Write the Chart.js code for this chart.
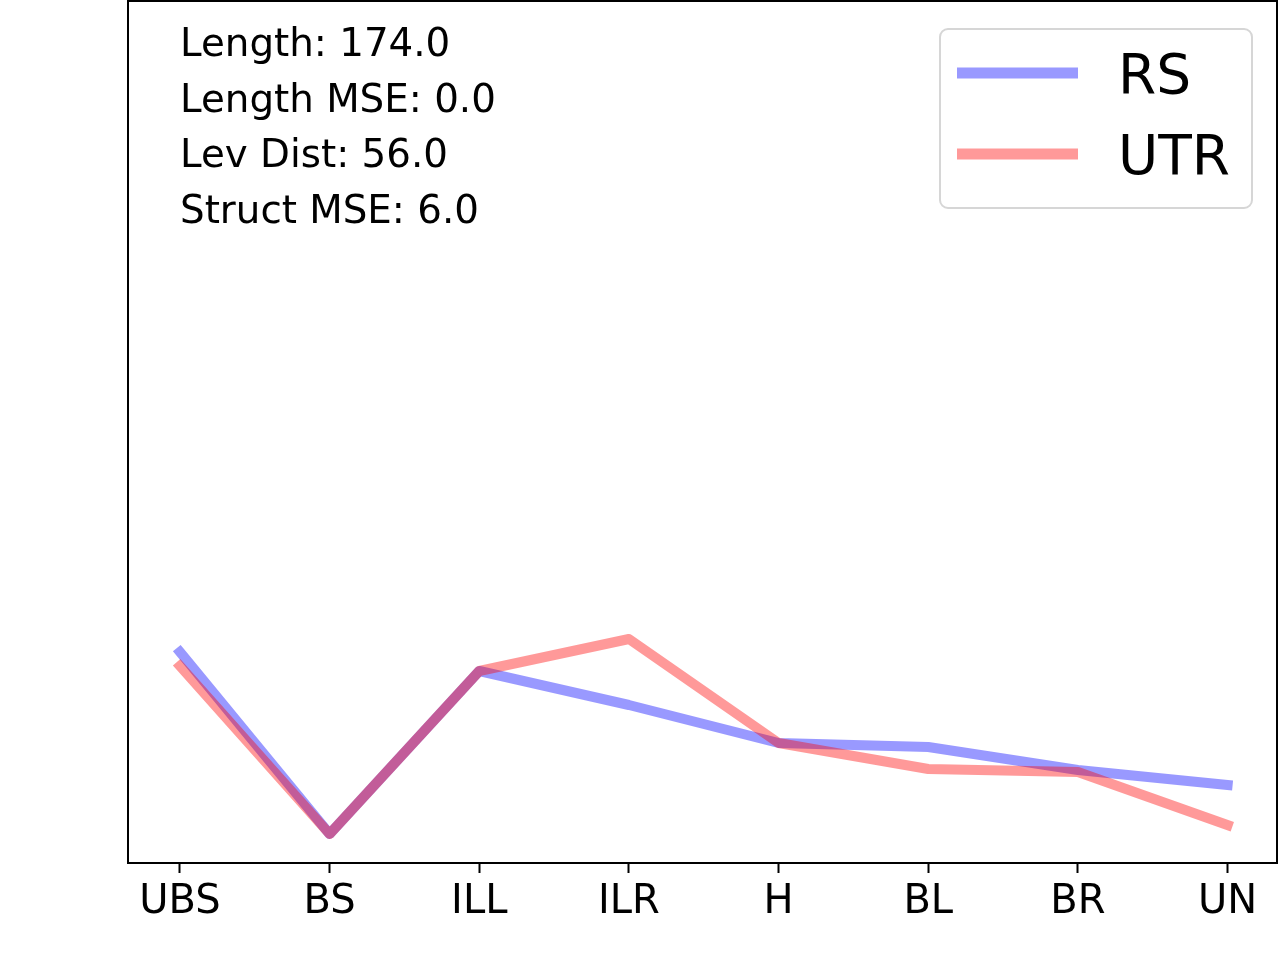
<!DOCTYPE html>
<html>
<head>
<meta charset="utf-8">
<script src="https://cdn.jsdelivr.net/npm/chart.js@4.4.1/dist/chart.umd.min.js"></script>
<style>
  html, body { margin: 0; padding: 0; background: #fff; }
  #wrap { width: 1280px; height: 960px; }
</style>
</head>
<body>
<div id="wrap"><canvas id="chart" width="1280" height="960"></canvas></div>
<script>
// values, arbitrary units (no y axis shown)
const categories = ['UBS', 'BS', 'ILL', 'ILR', 'H', 'BL', 'BR', 'UN'];
const rsValues = [211, 29, 192, 158, 120, 116, 93, 78];
const utrValues = [197, 29, 192, 224, 120, 94, 91, 38];
const statsLines = ['Length: 174.0', 'Length MSE: 0.0', 'Lev Dist: 56.0', 'Struct MSE: 6.0'];

const FONT = 'DejaVu Sans';

function toPoints(values) {
    return values.map((v, i) => ({ x: i, y: v }));
}

// black box round the plot area, like a matplotlib axes frame
const framePlugin = {
    id: 'frame',
    afterDatasetsDraw(chart) {
        const { ctx, chartArea: a } = chart;
        ctx.save();
        ctx.strokeStyle = '#000';
        ctx.lineWidth = 2;
        ctx.strokeRect(a.left, a.top, a.right - a.left, a.bottom - a.top);
        ctx.restore();
    }
};

// the stats text in the upper left corner
const statsPlugin = {
    id: 'stats',
    afterDraw(chart) {
        const ctx = chart.ctx;
        ctx.save();
        ctx.fillStyle = '#000';
        ctx.font = '38.8px "' + FONT + '"';
        ctx.textAlign = 'left';
        ctx.textBaseline = 'alphabetic';
        statsLines.forEach((line, i) => {
            ctx.fillText(line, 180, 56 + i * 55.7);
        });
        ctx.restore();
    }
};

// matplotlib style legend box in the upper right
const legendPlugin = {
    id: 'mplLegend',
    afterDraw(chart) {
        const ctx = chart.ctx;
        const x = 940, y = 29, w = 312, h = 179, r = 8;
        ctx.save();
        ctx.fillStyle = 'rgba(255,255,255,0.8)';
        ctx.strokeStyle = '#d6d6d6';
        ctx.lineWidth = 2;
        ctx.beginPath();
        ctx.roundRect(x, y, w, h, r);
        ctx.fill();
        ctx.stroke();

        ctx.font = '55px "' + FONT + '"';
        ctx.textBaseline = 'alphabetic';
        chart.data.datasets.forEach((ds, i) => {
            const ly = 73 + i * 81;
            ctx.strokeStyle = ds.borderColor;
            ctx.lineWidth = 11;
            ctx.lineCap = 'butt';
            ctx.beginPath();
            ctx.moveTo(957, ly);
            ctx.lineTo(1078, ly);
            ctx.stroke();
            ctx.fillStyle = '#000';
            ctx.fillText(ds.label, 1118, ly + 20);
        });
        ctx.restore();
    }
};

new Chart(document.getElementById('chart').getContext('2d'), {
    type: 'line',
    data: {
        datasets: [
            {
                label: 'RS',
                data: toPoints(rsValues),
                borderColor: 'rgba(0,0,255,0.4)',
                backgroundColor: 'rgba(0,0,255,0.4)',
                borderWidth: 10,
                borderCapStyle: 'square',
                borderJoinStyle: 'round',
                pointRadius: 0,
                tension: 0,
                order: 2
            },
            {
                label: 'UTR',
                data: toPoints(utrValues),
                borderColor: 'rgba(255,0,0,0.4)',
                backgroundColor: 'rgba(255,0,0,0.4)',
                borderWidth: 10,
                borderCapStyle: 'square',
                borderJoinStyle: 'round',
                pointRadius: 0,
                tension: 0,
                order: 1
            }
        ]
    },
    options: {
        responsive: false,
        animation: false,
        devicePixelRatio: 1,
        layout: { padding: { left: 128, right: 3, top: 1, bottom: 0 } },
        plugins: {
            legend: { display: false },
            tooltip: { enabled: false }
        },
        scales: {
            x: {
                type: 'linear',
                min: -0.347,
                max: 7.33,
                afterBuildTicks: (scale) => {
                    scale.ticks = categories.map((_, i) => ({ value: i }));
                },
                afterFit: (scale) => { scale.height = 97; },
                border: { display: false },
                grid: {
                    display: true,
                    drawOnChartArea: false,
                    drawTicks: true,
                    tickLength: 10,
                    tickWidth: 2,
                    color: '#000'
                },
                ticks: {
                    autoSkip: false,
                    maxRotation: 0,
                    padding: 6,
                    color: '#000',
                    font: { family: FONT, size: 40 },
                    callback: (v) => categories[v]
                }
            },
            y: {
                display: false,
                min: 0,
                max: 862
            }
        }
    },
    plugins: [framePlugin, statsPlugin, legendPlugin]
});
</script>
</body>
</html>
